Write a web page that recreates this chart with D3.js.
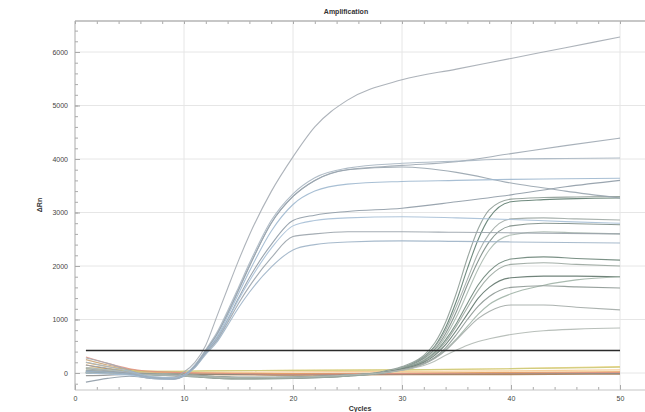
<!DOCTYPE html>
<html><head><meta charset="utf-8">
<script src="https://cdn.jsdelivr.net/npm/d3@7"></script>
<style>
html,body{margin:0;padding:0;background:#fff;}
svg{display:block;font-family:"Liberation Sans",Arial,sans-serif;}
</style></head><body>
<svg id="chart" width="645" height="412"></svg>
<script>
// ---------- data ----------
const title = "Amplification";
const xLabel = "Cycles";
const yLabel = "ΔRn";
const xTicks = [0, 10, 20, 30, 40, 50];
const yTicks = [0, 1000, 2000, 3000, 4000, 5000, 6000];
const threshold = 420;
const thresholdCycles = [1, 50];

// early amplifying wells (Ct ~ 12)
const cyclesEarly = [1,3,5,7,9,10,11,12,13,14,15,16,18,20,22,25,30,35,40,45,50];
const earlyCurves = [
  [280,180,50,-70,-80,20,200,520,1050,1580,2100,2580,3390,4040,4600,5100,5480,5680,5880,6080,6280],
  [150,90,10,-80,-100,-40,140,420,720,1120,1560,2000,2800,3300,3600,3800,3880,3950,4100,4250,4390],
  [100,60,0,-90,-110,-40,150,440,750,1160,1600,2050,2850,3350,3650,3830,3920,3960,4000,4010,4020],
  [50,20,-20,-100,-110,-50,130,420,710,1100,1540,1990,2800,3300,3600,3800,3850,3750,3550,3400,3270],
  [200,120,30,-70,-90,-30,140,400,670,1060,1480,1900,2650,3150,3400,3530,3580,3600,3620,3630,3640],
  [-170,-100,-60,-100,-110,-50,120,390,640,1000,1400,1780,2400,2850,2950,3020,3080,3200,3330,3480,3600],
  [0,-20,-40,-100,-120,-60,110,380,620,980,1370,1720,2330,2750,2850,2900,2920,2900,2870,2830,2800],
  [80,40,-10,-90,-110,-50,110,370,600,940,1300,1620,2150,2550,2600,2640,2640,2630,2620,2610,2600],
  [30,10,-20,-90,-100,-50,100,350,570,890,1220,1510,1980,2300,2400,2450,2470,2460,2450,2440,2430]
];

// late amplifying wells (Ct ~ 33)
const cyclesLate = [1,5,10,15,20,25,28,30,31,32,33,34,35,36,37,38,40,43,46,50];
const lateCurves = [
  [40,0,-30,-80,-80,-40,20,120,200,330,560,950,1500,2150,2700,3050,3250,3280,3290,3300],
  [20,-10,-50,-100,-90,-50,10,100,180,300,500,850,1350,1950,2500,2900,3200,3240,3260,3270],
  [30,0,-40,-90,-80,-40,10,100,170,290,480,800,1250,1750,2250,2600,2880,2900,2880,2860],
  [0,-20,-60,-110,-100,-60,0,90,160,270,440,740,1150,1650,2100,2450,2750,2800,2790,2770],
  [50,10,-30,-80,-80,-40,10,90,150,250,410,680,1050,1500,1950,2300,2580,2640,2620,2600],
  [10,-10,-50,-100,-90,-50,0,80,140,230,380,620,930,1300,1650,1900,2130,2170,2140,2110],
  [0,-20,-60,-110,-100,-60,-10,70,130,220,360,580,880,1220,1550,1800,2030,2060,2030,2000],
  [20,-10,-40,-90,-80,-40,0,70,120,200,330,530,800,1100,1400,1600,1780,1810,1810,1800],
  [0,-20,-50,-100,-90,-50,-10,50,100,170,280,430,640,870,1100,1280,1480,1640,1740,1800],
  [0,-10,-40,-90,-80,-40,0,60,110,180,290,470,720,1000,1250,1430,1600,1630,1610,1590],
  [10,-10,-40,-80,-80,-40,0,60,100,170,270,420,620,830,1020,1150,1270,1270,1230,1180],
  [0,-20,-50,-90,-80,-40,0,50,90,140,220,330,430,520,590,640,720,790,820,840]
];

// non-amplifying wells
const cyclesFlat = [1,3,5,8,12,20,30,40,50];
const flatCurves = [
  [200,120,60,10,0,-10,0,10,20],
  [100,80,50,30,40,50,60,80,120],
  [250,150,70,0,-20,-30,-20,-10,0],
  [150,80,30,-20,-30,-40,-30,-30,-20],
  [50,30,10,0,10,20,30,40,60],
  [80,60,40,30,40,50,60,80,110],
  [-50,-40,-20,-10,-20,-30,-20,-10,-10],
  [300,180,80,20,0,-20,-10,0,10]
];

// ---------- palettes ----------
const earlyColors = ["#a4abb2","#9ea8b2","#a9b6c2","#98a4ae","#9fb8cf","#8f9ba6","#a6bfd6","#9aa3ab","#9db2c6"];
const lateColors  = ["#8e9c96","#5f7d70","#a0aaa5","#7d8d86","#a8b8ae","#6d8579","#9aa69f","#60756b","#a0b2a6","#8d9893","#a2aaa6","#b0b8b3"];
const flatColors  = ["#e8a040","#f2d27a","#c8a070","#b07840","#f5c68a","#c9c97a","#888888","#e09080"];

// ---------- layout ----------
const svg = d3.select("#chart");
const L = 75, R = 645, T = 21, B = 390;
const x = d3.scaleLinear().domain([0, 50]).range([75, 620]);
const y = d3.scaleLinear().domain([0, 6000]).range([373, 52]);

svg.append("defs").append("clipPath").attr("id","clip")
  .append("rect").attr("x",L).attr("y",T).attr("width",R-L).attr("height",B-T);

// gridlines
const grid = svg.append("g");
grid.selectAll(".gx").data(xTicks.filter(d=>d>0)).join("line")
  .attr("x1",d=>x(d)).attr("x2",d=>x(d)).attr("y1",T).attr("y2",B)
  .attr("stroke","#e6e6e6").attr("stroke-width",1);
grid.selectAll(".gy").data(yTicks).join("line")
  .attr("x1",L).attr("x2",R).attr("y1",d=>y(d)).attr("y2",d=>y(d))
  .attr("stroke","#e6e6e6").attr("stroke-width",1);

// axes
const minorY = d3.range(-200, 6600, 200);
const minorX = d3.range(0, 51, 2);
const axisStyle = g => { g.select(".domain").remove(); g.selectAll("line").attr("stroke","#aaa"); };

svg.append("g").attr("transform",`translate(${L},0)`)
  .call(d3.axisLeft(y).tickValues(minorY).tickSize(-3).tickFormat(""))
  .call(axisStyle);
svg.append("g").attr("transform",`translate(${L},0)`)
  .call(d3.axisLeft(y).tickValues(yTicks).tickSize(-5).tickPadding(7).tickFormat(d3.format("d")))
  .call(axisStyle)
  .call(g=>g.selectAll("text").attr("font-size",7).attr("fill","#444"));

svg.append("g").attr("transform",`translate(0,${B})`)
  .call(d3.axisBottom(x).tickValues(minorX).tickSize(-3).tickFormat(""))
  .call(axisStyle);
svg.append("g").attr("transform",`translate(0,${B})`)
  .call(d3.axisBottom(x).tickValues(xTicks).tickSize(-5).tickPadding(6).tickFormat(d3.format("d")))
  .call(axisStyle)
  .call(g=>g.selectAll("text").attr("font-size",7).attr("fill","#444"));

svg.append("g").attr("transform",`translate(0,${T})`)
  .call(d3.axisTop(x).tickValues(minorX).tickSize(-3).tickFormat(""))
  .call(axisStyle);

// frame
svg.append("line").attr("x1",L).attr("x2",R).attr("y1",T).attr("y2",T).attr("stroke","#b5b5b5").attr("stroke-width",1.5);
svg.append("line").attr("x1",L).attr("x2",R).attr("y1",B).attr("y2",B).attr("stroke","#c5c5c5").attr("stroke-width",1);
svg.append("line").attr("x1",L).attr("x2",L).attr("y1",T).attr("y2",B).attr("stroke","#aaa").attr("stroke-width",1);

// curves
const line = d3.line().x(d=>x(d[0])).y(d=>y(d[1])).curve(d3.curveMonotoneX);
const plot = svg.append("g").attr("clip-path","url(#clip)");

function drawGroup(cycles, curves, colors, w, op){
  plot.append("g").selectAll("path").data(curves).join("path")
    .attr("d", vals => line(vals.map((v,i)=>[cycles[i], v])))
    .attr("fill","none")
    .attr("stroke",(d,i)=>colors[i % colors.length])
    .attr("stroke-width",w)
    .attr("stroke-opacity",op);
}
drawGroup(cyclesFlat, flatCurves, flatColors, 1.2, 0.85);
drawGroup(cyclesLate, lateCurves, lateColors, 1.1, 0.9);
drawGroup(cyclesEarly, earlyCurves, earlyColors, 1.1, 0.9);

// threshold
plot.append("line")
  .attr("x1",x(thresholdCycles[0])).attr("x2",x(thresholdCycles[1]))
  .attr("y1",y(threshold)).attr("y2",y(threshold))
  .attr("stroke","#2a2a2a").attr("stroke-width",1.5);

// titles
svg.append("text").attr("x",346).attr("y",14).attr("text-anchor","middle")
  .attr("font-size",7).attr("font-weight","bold").attr("fill","#333").text(title);
svg.append("text").attr("x",360).attr("y",411).attr("text-anchor","middle")
  .attr("font-size",7).attr("font-weight","bold").attr("fill","#333").text(xLabel);
svg.append("text").attr("transform","translate(42,205) rotate(-90)").attr("text-anchor","middle")
  .attr("font-size",7).attr("font-weight","bold").attr("fill","#333").text(yLabel);
</script>
</body></html>
